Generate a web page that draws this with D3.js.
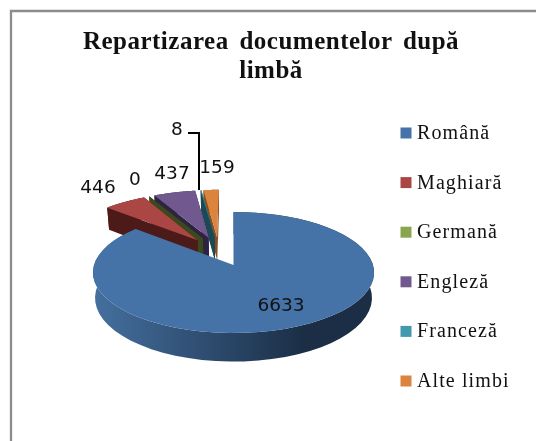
<!DOCTYPE html>
<html>
<head>
<meta charset="utf-8">
<script src="https://cdn.jsdelivr.net/npm/d3@7"></script>
<style>
html, body { margin: 0; padding: 0; background: #fff; }
svg { display: block; filter: blur(0.4px); }
</style>
</head>
<body>
<div id="chart"></div>
<script>
/* 3D exploded pie, language split of the documents */

const categories = ["Română", "Maghiară", "Germană", "Engleză", "Franceză", "Alte limbi"];
const values = [6633, 446, 0, 437, 8, 159];
const colors = ["#4572a7", "#aa4643", "#89a54e", "#71588f", "#4198af", "#db843d"];
const darkColors = ["#1d3048", "#4c1b19", "#3a4a1d", "#2e2340", "#1a4a58", "#8a4f20"];
const titleLines = ["Repartizarea documentelor după", "limbă"];

const width = 536, height = 441;
const svg = d3.select("#chart").append("svg").attr("width", width).attr("height", height);

// frame
svg.append("path")
	.attr("d", "M11,441V11H536")
	.attr("fill", "none")
	.attr("stroke", "#8c8c8c")
	.attr("stroke-width", 2.3);

// title
svg.append("g").selectAll("text")
	.data(titleLines)
	.join("text")
	.attr("x", 271)
	.attr("y", (d, i) => 49 + i * 29)
	.attr("text-anchor", "middle")
	.style("font", "bold 25px 'Liberation Serif'")
	.style("word-spacing", "4px")
	.style("letter-spacing", "0.5px")
	.attr("fill", "#111")
	.text(d => d);

// pie layout, clockwise from the top
const slices = d3.pie().sort(null).value(d => d)(values);

// disc plane to screen, with a little perspective (the back is smaller)
const apexX = 233.5, apexY = 265, scaleX = 139.5, scaleY = 59.6, persp = 0.124, depth = 25;
const explode = 0.26;
const x = d3.scaleLinear().domain([-1, 1]).range([apexX - scaleX, apexX + scaleX]);
const y = d3.scaleLinear().domain([-1, 1]).range([apexY + scaleY, apexY - scaleY]);

function project(u, v, low){
	let w = 1 + persp * v;
	let k = low ? 0.985 : 1;
	return [x(k * u / w), y(v / w) + (low ? depth / w : 0)];
}

// all slices are pulled away from the pie centre, taken relative to the big one
const mid = d => (d.startAngle + d.endAngle) / 2;
const offset = d => [
	explode * (Math.sin(mid(d)) - Math.sin(mid(slices[0]))),
	explode * (Math.cos(mid(d)) - Math.cos(mid(slices[0])))
];
const rim = (d, a, low) => {
	let o = offset(d);
	return project(o[0] + Math.sin(a), o[1] + Math.cos(a), low);
};
const centre = (d, low) => {
	let o = offset(d);
	return project(o[0], o[1], low);
};

const line = d3.line();
const arcAngles = (a0, a1) => d3.range(0, 61).map(i => a0 + (a1 - a0) * i / 60);

// blue side gets a left to right gradient
const defs = svg.append("defs");
const grad = defs.append("linearGradient").attr("id", "sideBlue");
grad.append("stop").attr("offset", "0").attr("stop-color", "#44709f");
grad.append("stop").attr("offset", "0.75").attr("stop-color", "#1b2e46");
grad.append("stop").attr("offset", "1").attr("stop-color", "#1b2e46");

const pie = svg.append("g");

function drawSlice(d, i){
	let g = pie.append("g");
	let side = i === 0 ? "url(#sideBlue)" : darkColors[i];
	let angles = arcAngles(d.startAngle, d.endAngle);

	// outer wall
	let wall = angles.map(a => rim(d, a, false)).concat(angles.slice().reverse().map(a => rim(d, a, true)));
	g.append("path").attr("d", line(wall) + "Z").attr("fill", side);

	// the two cut walls
	[d.startAngle, d.endAngle].forEach(a => {
		let cut = [centre(d, false), rim(d, a, false), rim(d, a, true), centre(d, true)];
		g.append("path").attr("d", line(cut) + "Z").attr("fill", i === 0 ? "none" : darkColors[i]);
	});

	// top face
	let top = [centre(d, false)].concat(angles.map(a => rim(d, a, false)));
	g.append("path").attr("d", line(top) + "Z").attr("fill", colors[i]);
}

// back to front: small slices first, the big one over them
[5, 4, 3, 2, 1, 0].forEach(i => drawSlice(slices[i], i));

// data labels
const labelPos = [[281, 311], [98, 193], [135, 185], [172, 179], [177, 135], [217, 173]];
svg.append("g").selectAll("text")
	.data(values)
	.join("text")
	.attr("x", (d, i) => labelPos[i][0])
	.attr("y", (d, i) => labelPos[i][1])
	.attr("text-anchor", "middle")
	.style("font", "18.5px 'DejaVu Sans'")
	.attr("fill", "#111")
	.text(d => d);

// leader line for the 8 label
svg.append("path")
	.attr("d", line([[188, 133], [199, 133], [199, 190]]))
	.attr("fill", "none")
	.attr("stroke", "#000")
	.attr("stroke-width", 2);

// legend
const legendY = d3.scalePoint().domain(categories).range([133, 381]);
const legend = svg.append("g").selectAll("g")
	.data(categories)
	.join("g")
	.attr("transform", d => `translate(0,${legendY(d)})`);

legend.append("rect")
	.attr("x", 400.5)
	.attr("y", -5.5)
	.attr("width", 11)
	.attr("height", 11)
	.attr("fill", (d, i) => colors[i]);

legend.append("text")
	.attr("x", 417)
	.attr("y", 6)
	.style("font", "20px 'Liberation Serif'")
	.style("letter-spacing", "1.1px")
	.attr("fill", "#111")
	.text(d => d);
</script>
</body>
</html>
